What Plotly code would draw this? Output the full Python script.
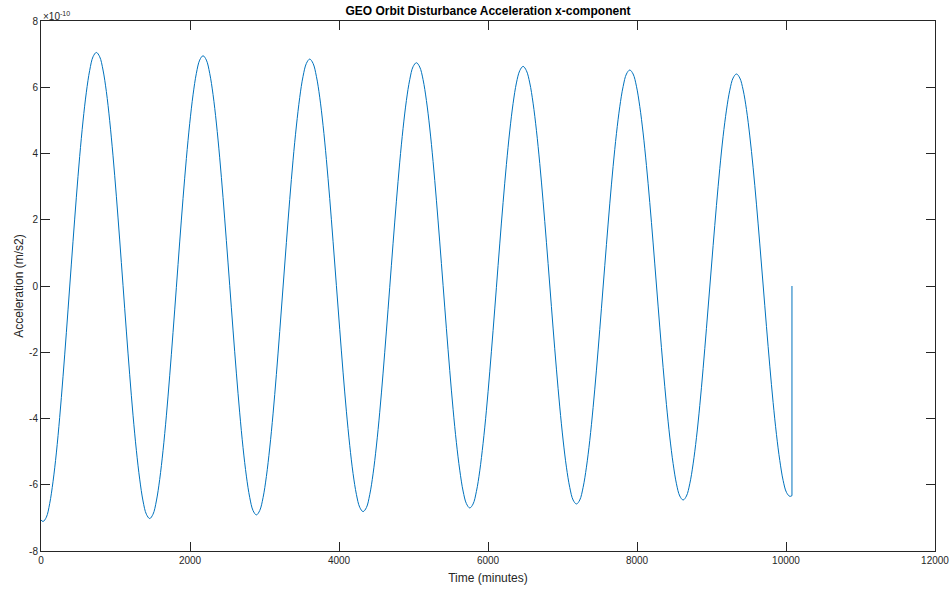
import plotly.graph_objects as go

# Time (minutes) and acceleration (units of 1e-10 m/s^2)
time_min = [0,
    27, 71.75, 116.5, 161.25, 206, 250.75, 295.5, 340.25, 385, 429.75, 474.5, 519.25, 564, 608.75, 653.5, 698.25,
    743, 787.75, 832.5, 877.25, 922, 966.75, 1011.5, 1056.25, 1101, 1145.75, 1190.5, 1235.25, 1280, 1324.75, 1369.5, 1414.25,
    1459, 1503.75, 1548.5, 1593.25, 1638, 1682.75, 1727.5, 1772.25, 1817, 1861.75, 1906.5, 1951.25, 1996, 2040.75, 2085.5, 2130.25,
    2175, 2219.75, 2264.5, 2309.25, 2354, 2398.75, 2443.5, 2488.25, 2533, 2577.75, 2622.5, 2667.25, 2712, 2756.75, 2801.5, 2846.25,
    2891, 2935.75, 2980.5, 3025.25, 3070, 3114.75, 3159.5, 3204.25, 3249, 3293.75, 3338.5, 3383.25, 3428, 3472.75, 3517.5, 3562.25,
    3607, 3651.75, 3696.5, 3741.25, 3786, 3830.75, 3875.5, 3920.25, 3965, 4009.75, 4054.5, 4099.25, 4144, 4188.75, 4233.5, 4278.25,
    4323, 4367.75, 4412.5, 4457.25, 4502, 4546.75, 4591.5, 4636.25, 4681, 4725.75, 4770.5, 4815.25, 4860, 4904.75, 4949.5, 4994.25,
    5039, 5083.75, 5128.5, 5173.25, 5218, 5262.75, 5307.5, 5352.25, 5397, 5441.75, 5486.5, 5531.25, 5576, 5620.75, 5665.5, 5710.25,
    5755, 5799.75, 5844.5, 5889.25, 5934, 5978.75, 6023.5, 6068.25, 6113, 6157.75, 6202.5, 6247.25, 6292, 6336.75, 6381.5, 6426.25,
    6471, 6515.75, 6560.5, 6605.25, 6650, 6694.75, 6739.5, 6784.25, 6829, 6873.75, 6918.5, 6963.25, 7008, 7052.75, 7097.5, 7142.25,
    7187, 7231.75, 7276.5, 7321.25, 7366, 7410.75, 7455.5, 7500.25, 7545, 7589.75, 7634.5, 7679.25, 7724, 7768.75, 7813.5, 7858.25,
    7903, 7947.75, 7992.5, 8037.25, 8082, 8126.75, 8171.5, 8216.25, 8261, 8305.75, 8350.5, 8395.25, 8440, 8484.75, 8529.5, 8574.25,
    8619, 8663.75, 8708.5, 8753.25, 8798, 8842.75, 8887.5, 8932.25, 8977, 9021.75, 9066.5, 9111.25, 9156, 9200.75, 9245.5, 9290.25,
    9335, 9379.75, 9424.5, 9469.25, 9514, 9558.75, 9603.5, 9648.25, 9693, 9737.75, 9782.5, 9827.25, 9872, 9916.75, 9961.5, 10006.25,
    10051, 10080, 10080]
accel_e10 = [-7.06,
    -7.11, -6.98, -6.57, -5.91, -5.04, -3.97, -2.74, -1.41, -0.03, 1.35, 2.68, 3.91, 4.98, 5.85, 6.51, 6.92,
    7.05, 6.92, 6.52, 5.87, 4.99, 3.93, 2.71, 1.39, 0.02, -1.36, -2.68, -3.90, -4.96, -5.83, -6.49, -6.89,
    -7.02, -6.89, -6.49, -5.84, -4.97, -3.92, -2.71, -1.40, -0.04, 1.33, 2.64, 3.85, 4.90, 5.77, 6.42, 6.82,
    6.95, 6.82, 6.42, 5.78, 4.92, 3.87, 2.67, 1.37, 0.02, -1.33, -2.63, -3.83, -4.88, -5.74, -6.38, -6.78,
    -6.91, -6.78, -6.39, -5.75, -4.89, -3.86, -2.67, -1.37, -0.03, 1.31, 2.61, 3.80, 4.83, 5.69, 6.33, 6.72,
    6.85, 6.72, 6.33, 5.70, 4.85, 3.82, 2.64, 1.35, 0.02, -1.31, -2.60, -3.78, -4.81, -5.66, -6.29, -6.68,
    -6.81, -6.69, -6.30, -5.67, -4.83, -3.81, -2.63, -1.36, -0.04, 1.29, 2.56, 3.74, 4.76, 5.60, 6.23, 6.62,
    6.74, 6.61, 6.23, 5.60, 4.77, 3.76, 2.59, 1.33, 0.02, -1.29, -2.55, -3.72, -4.73, -5.56, -6.19, -6.57,
    -6.70, -6.58, -6.20, -5.58, -4.75, -3.75, -2.59, -1.34, -0.04, 1.27, 2.52, 3.67, 4.68, 5.51, 6.13, 6.50,
    6.63, 6.50, 6.13, 5.52, 4.70, 3.70, 2.56, 1.32, 0.03, -1.27, -2.51, -3.65, -4.65, -5.47, -6.08, -6.46,
    -6.58, -6.46, -6.08, -5.47, -4.66, -3.67, -2.54, -1.31, -0.03, 1.25, 2.48, 3.61, 4.60, 5.41, 6.02, 6.40,
    6.52, 6.40, 6.03, 5.42, 4.62, 3.64, 2.52, 1.30, 0.03, -1.24, -2.46, -3.58, -4.56, -5.36, -5.97, -6.34,
    -6.46, -6.34, -5.97, -5.37, -4.58, -3.61, -2.49, -1.28, -0.03, 1.22, 2.43, 3.55, 4.52, 5.31, 5.91, 6.28,
    6.40, 6.28, 5.92, 5.33, 4.53, 3.57, 2.47, 1.27, 0.03, -1.22, -2.42, -3.52, -4.48, -5.27, -5.87, -6.23,
    -6.35, -6.33, 0.0]

x_ticks = [0, 2000, 4000, 6000, 8000, 10000, 12000]
x_ticklabels = ["0", "2000", "4000", "6000", "8000", "10000", "12000"]
y_ticks = [-8, -6, -4, -2, 0, 2, 4, 6, 8]
y_ticklabels = ["-8", "-6", "-4", "-2", "0", "2", "4", "6", "8"]

LINE = "#0072BD"
AX = "#262626"
FONT = "Liberation Sans, Arial, Helvetica, sans-serif"

fig = go.Figure()
# smooth curve
fig.add_trace(go.Scatter(x=time_min[:-1], y=accel_e10[:-1], mode="lines",
                         line=dict(color=LINE, width=1, shape="spline", smoothing=1.0),
                         showlegend=False, hoverinfo="x+y"))
# final jump to zero
fig.add_trace(go.Scatter(x=time_min[-2:], y=accel_e10[-2:], mode="lines",
                         line=dict(color=LINE, width=1),
                         showlegend=False, hoverinfo="x+y"))

axis_common = dict(showgrid=False, zeroline=False, showline=True, linecolor=AX,
                   linewidth=1, mirror="ticks", ticks="inside", ticklen=9,
                   tickwidth=1, tickcolor=AX, automargin=False,
                   tickfont=dict(family=FONT, size=10, color=AX))

fig.update_layout(
    width=951, height=590,
    margin=dict(l=41, r=16, t=21, b=39),
    paper_bgcolor="white", plot_bgcolor="white",
    title=dict(text="<b>GEO Orbit Disturbance Acceleration x-component</b>",
               xref="paper", x=0.5, xanchor="center",
               yref="container", y=1 - 11 / 590, yanchor="middle",
               font=dict(family=FONT, size=12, color="black")),
    xaxis=dict(range=[0, 12000], tickvals=x_ticks, ticktext=x_ticklabels,
               title=dict(text="Time (minutes)", standoff=8,
                          font=dict(family=FONT, size=12, color=AX)),
               **axis_common),
    yaxis=dict(range=[-8, 8], tickvals=y_ticks, ticktext=y_ticklabels,
               title=dict(text="Acceleration (m/s2)", standoff=2,
                          font=dict(family=FONT, size=12, color=AX)),
               **axis_common),
    annotations=[dict(text="\u00d710<sup>-10</sup>", xref="paper", yref="paper",
                      x=0, y=1, xanchor="left", yanchor="bottom", showarrow=False,
                      font=dict(family=FONT, size=10, color=AX), yshift=-3)],
)

fig.write_html("out.html", config={"displayModeBar": False},
               post_script="document.body.style.margin='0';document.body.style.overflow='hidden';")
